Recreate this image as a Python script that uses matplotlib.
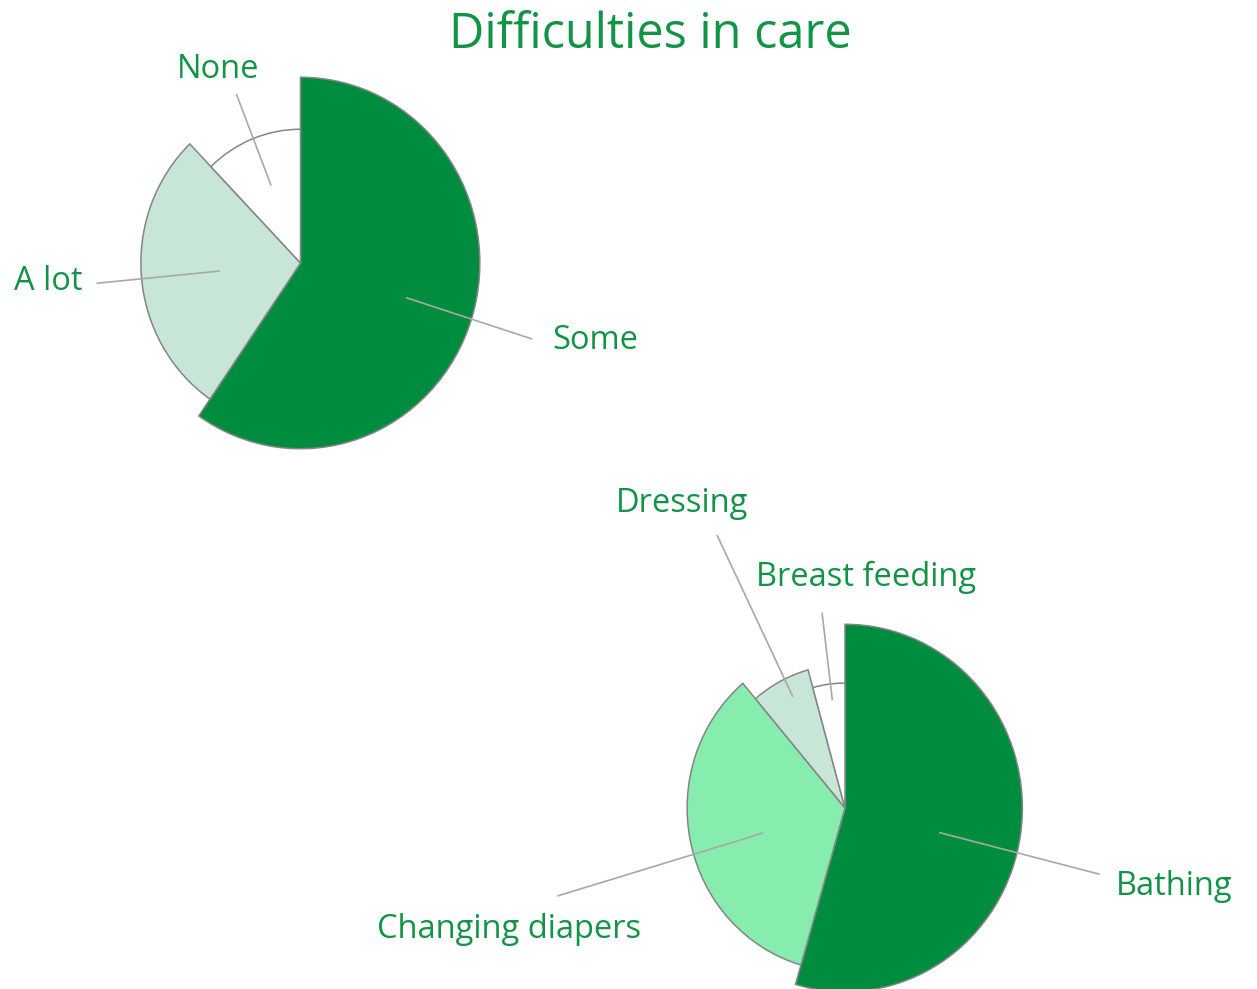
import matplotlib
matplotlib.use("Agg")
import matplotlib.pyplot as plt
from matplotlib.patches import Wedge
from matplotlib.transforms import Affine2D
import numpy as np

# Difficulty level shares (%)
level_labels = ["Some", "A lot", "None"]
level_values = [59.6, 28.2, 12.2]
level_z = [1.00, 0.89, 0.72]          # relative slice depth

# Care task shares (%)
task_labels = ["Bathing", "Changing diapers", "Dressing", "Breast feeding"]
task_values = [54.5, 34.3, 6.9, 4.3]
task_z = [1.00, 0.89, 0.78, 0.68]     # relative slice depth

level_colors = ["#008c3f", "#c8e6d7", "#ffffff"]
task_colors = ["#008c3f", "#86edaf", "#c8e6d7", "#ffffff"]
text_color = "#129447"
W, H = 1257, 989
SX, SY = 0.98, 1.015   # slight horizontal/vertical stretch of the pies

plt.rcParams["font.family"] = ["Open Sans", "DejaVu Sans"]
fig = plt.figure(figsize=(W / 100, H / 100), dpi=100)
ax = fig.add_axes([0, 0, 1, 1])
ax.set_xlim(0, W)
ax.set_ylim(0, H)
ax.set_aspect("equal")
ax.axis("off")


def draw_pie(center, rmax, values, zs, colors, labels, conn, label_pos):
    cx, cy = center
    tr = Affine2D().scale(SX, SY).translate(cx, cy) + ax.transData
    total = float(sum(values))
    start = 0.0  # clockwise degrees from 12 o'clock
    for v, z, c, lab, (s, e, shift), (dx, dy, ha) in zip(
            values, zs, colors, labels, conn, label_pos):
        span = 360.0 * v / total
        a0, a1 = start, start + span
        r = rmax * z
        ax.add_patch(Wedge((0, 0), r, 90 - a1, 90 - a0, facecolor=c,
                           edgecolor="#858585", linewidth=1.1, zorder=2,
                           transform=tr))
        mid = np.deg2rad((a0 + a1) / 2 + shift)
        ux, uy = np.sin(mid), np.cos(mid)
        x0, y0 = cx + s * ux * SX, cy + s * uy * SY
        x1, y1 = cx + e * ux * SX, cy + e * uy * SY
        ax.plot([x0, x1], [y0, y1], color="#a8a8a8", linewidth=1.2,
                zorder=3, solid_capstyle="butt")
        ax.text(x1 + dx, y1 + dy, lab, color=text_color, fontsize=23.5,
                ha=ha, va="baseline", zorder=4)
        start = a1


draw_pie((300.5, H - 263), 183, level_values, level_z, level_colors, level_labels,
         conn=[(113, 248, 0.3), (83, 209, -0.8), (82, 179, 0.5)],
         label_pos=[(20, -10, "left"),
                    (-14, -7, "right"),
                    (-18, 16, "center")])

draw_pie((845, H - 808), 181, task_values, task_z, task_colors, task_labels,
         conn=[(99, 268, 6.0), (87, 306, -4.4), (122, 299, 2.0), (107, 194, 0.8)],
         label_pos=[(16, -21, "left"),
                    (-48, -42, "center"),
                    (-35, 23, "center"),
                    (-66, 27, "left")])

ax.text(650, H - 48, "Difficulties in care", color=text_color, fontsize=35,
        ha="center", va="baseline")

fig.savefig("out.png", dpi=100)
